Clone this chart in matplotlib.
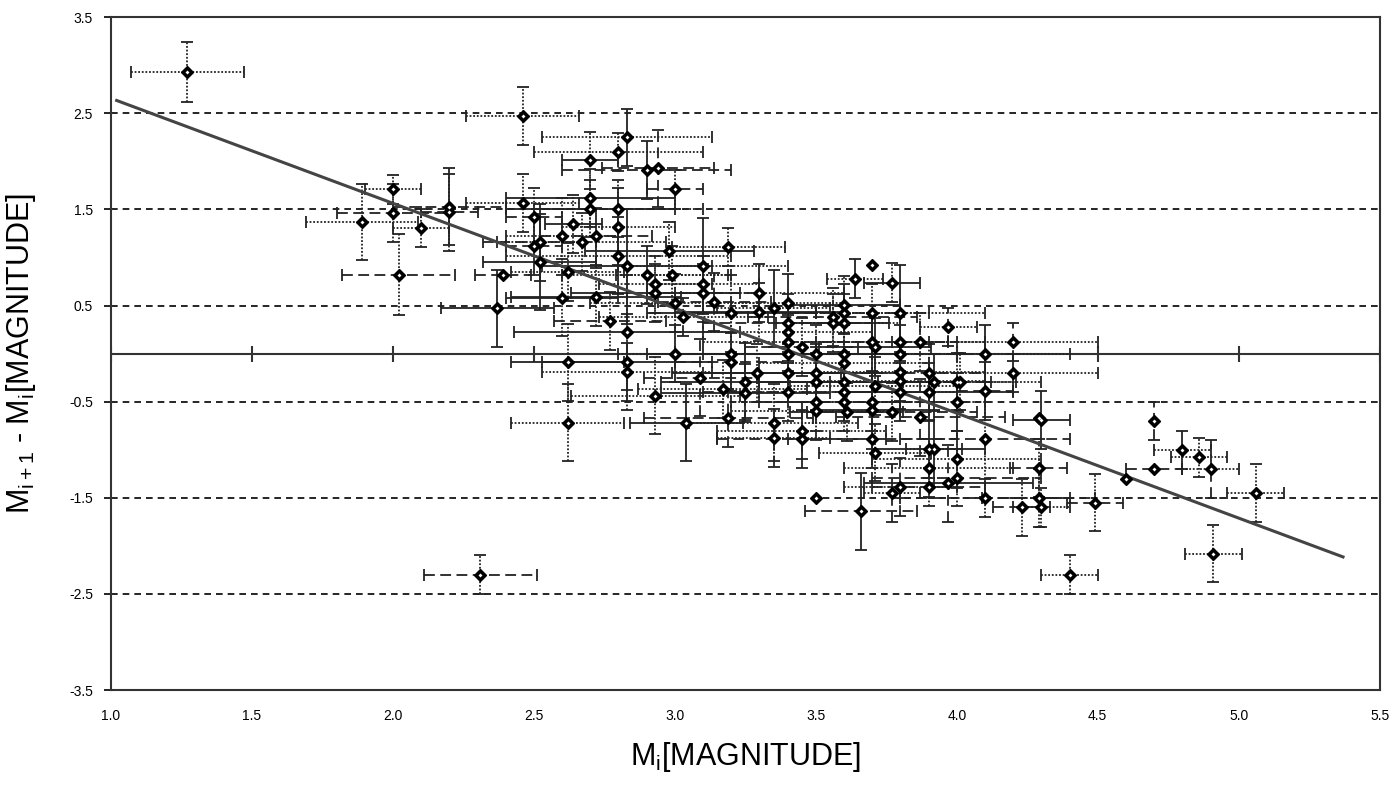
import numpy as np
import matplotlib.pyplot as plt

plt.rcParams['font.family'] = ['Liberation Sans', 'DejaVu Sans']
plt.rcParams['mathtext.fontset'] = 'custom'
plt.rcParams['mathtext.rm'] = 'Liberation Sans'
plt.rcParams['mathtext.it'] = 'Liberation Sans'

# magnitude M_i, difference M_{i+1} - M_i, their errors and error bar styles
# style codes: s = solid, d = dashed, o = dotted, n = no bar
mi = [1.27, 2.46, 2.31, 4.40, 1.89, 2.00, 2.00, 2.02, 2.10, 2.20,
      2.20, 2.37, 2.39, 2.46, 2.50, 2.50, 2.52, 2.52, 2.60, 2.60,
      2.64, 2.62, 2.67, 2.70, 2.70, 2.70, 2.72, 2.80, 2.80, 2.80,
      2.80, 2.83, 2.83, 2.90, 2.94, 3.00, 2.90, 2.93, 2.93, 2.98,
      2.99, 3.10, 3.10, 3.10, 3.14, 3.03, 2.77, 2.83, 2.62, 2.83,
      2.83, 3.00, 3.09, 3.17, 2.93, 3.19, 2.72, 3.00, 3.30, 3.35,
      3.40, 3.30, 3.40, 3.20, 3.40, 3.40, 3.40, 3.40, 3.20, 3.20,
      3.64, 3.70, 3.77, 3.60, 3.56, 3.56, 3.60, 3.60, 3.70, 3.80,
      3.45, 3.50, 3.60, 3.60, 3.70, 3.71, 3.80, 3.80, 3.87, 3.97,
      4.10, 4.20, 4.20, 4.10, 4.10, 4.00, 4.01, 4.00, 3.90, 3.90,
      3.92, 3.87, 3.80, 3.80, 3.80, 3.77, 3.71, 3.70, 3.70, 3.70,
      3.61, 3.60, 3.60, 3.60, 3.50, 3.50, 3.50, 3.50, 3.45, 3.45,
      3.40, 3.35, 3.35, 3.29, 3.25, 3.25, 3.19, 3.71, 3.90, 3.92,
      4.00, 3.90, 4.00, 3.97, 3.90, 3.80, 3.77, 4.10, 3.50, 3.66,
      4.29, 4.30, 4.29, 4.29, 4.30, 4.23, 4.49, 4.60, 4.70, 4.70,
      4.80, 4.86, 4.90, 4.91, 5.06, 2.62, 3.04]
dm = [2.93, 2.47, -2.30, -2.30, 1.37, 1.71, 1.46, 0.82, 1.31, 1.53,
      1.47, 0.47, 0.82, 1.57, 1.42, 1.12, 1.16, 0.95, 1.22, 0.58,
      1.35, 0.85, 1.16, 2.01, 1.62, 1.51, 1.22, 2.10, 1.51, 1.32,
      1.02, 2.25, 0.91, 1.91, 1.93, 1.71, 0.82, 0.72, 0.63, 1.07,
      0.82, 0.91, 0.72, 0.63, 0.54, 0.38, 0.34, 0.22, -0.09, -0.09,
      -0.19, 0.00, -0.25, -0.37, -0.44, 1.11, 0.59, 0.53, 0.63, 0.47,
      0.53, 0.43, 0.32, 0.42, 0.22, 0.12, 0.00, -0.20, 0.00, -0.09,
      0.78, 0.92, 0.74, 0.51, 0.38, 0.32, 0.42, 0.32, 0.42, 0.42,
      0.07, 0.00, 0.00, -0.10, 0.12, 0.07, 0.12, 0.00, 0.12, 0.28,
      0.00, 0.12, -0.20, -0.39, -0.89, -0.29, -0.29, -0.50, -0.20, -0.40,
      -0.30, -0.66, -0.19, -0.28, -0.40, -0.61, -0.34, -0.50, -0.59, -0.89,
      -0.61, -0.30, -0.40, -0.50, -0.20, -0.29, -0.50, -0.60, -0.80, -0.89,
      -0.40, -0.72, -0.88, -0.20, -0.29, -0.41, -0.67, -1.03, -0.99, -0.99,
      -1.10, -1.19, -1.29, -1.35, -1.39, -1.39, -1.45, -1.50, -1.50, -1.64,
      -0.67, -0.69, -1.19, -1.50, -1.60, -1.60, -1.55, -1.30, -0.70, -1.20,
      -1.00, -1.08, -1.20, -2.08, -1.45, -0.72, -0.72]
mi_err = [0.2, 0.2, 0.2, 0.1, 0.2, 0.1, 0.2, 0.2, 0.1, 0.2,
          0.1, 0.2, 0.1, 0.2, 0.1, 0.1, 0.2, 0.2, 0.2, 0.2,
          0.1, 0.2, 0.3, 0.1, 0.3, 0.3, 0.2, 0.3, 0.3, 0.2,
          0.4, 0.3, 0.3, 0.3, 0.2, 0.1, 0.3, 0.2, 0.3, 0.3,
          0.2, 0.3, 0.2, 0.2, 0.2, 0.3, 0.2, 0.4, 0.2, 0.3,
          0.3, 0.2, 0.2, 0.3, 0.3, 0.2, 0.3, 0.3, 0.3, 0.2,
          0.2, 0.3, 0.3, 0.3, 0.3, 0.3, 0.3, 0.3, 0.3, 0.2,
          0.1, 0.0, 0.1, 0.2, 0.3, 0.2, 0.2, 0.2, 0.2, 0.3,
          0.2, 0.3, 0.2, 0.3, 0.3, 0.2, 0.3, 0.3, 0.1, 0.1,
          0.3, 0.3, 0.3, 0.1, 0.3, 0.3, 0.2, 0.1, 0.2, 0.3,
          0.2, 0.3, 0.3, 0.3, 0.2, 0.3, 0.3, 0.3, 0.2, 0.3,
          0.2, 0.3, 0.3, 0.3, 0.3, 0.2, 0.3, 0.3, 0.3, 0.3,
          0.3, 0.3, 0.2, 0.3, 0.3, 0.3, 0.3, 0.2, 0.2, 0.1,
          0.3, 0.3, 0.3, 0.3, 0.2, 0.2, 0.1, 0.3, 0.0, 0.2,
          0.1, 0.1, 0.1, 0.2, 0.1, 0.1, 0.1, 0.0, 0.1, 0.1,
          0.1, 0.1, 0.1, 0.1, 0.1, 0.2, 0.2]
dm_err = [0.31, 0.30, 0.20, 0.20, 0.40, 0.15, 0.30, 0.42, 0.20, 0.40,
          0.40, 0.40, 0.00, 0.30, 0.30, 0.30, 0.40, 0.50, 0.40, 0.40,
          0.30, 0.30, 0.30, 0.30, 0.30, 0.30, 0.30, 0.20, 0.30, 0.40,
          0.40, 0.30, 0.60, 0.30, 0.40, 0.20, 0.30, 0.30, 0.30, 0.30,
          0.30, 0.50, 0.30, 0.30, 0.30, 0.20, 0.30, 0.60, 0.40, 0.50,
          0.30, 0.30, 0.40, 0.30, 0.40, 0.20, 0.30, 0.30, 0.30, 0.40,
          0.30, 0.30, 0.30, 0.40, 0.30, 0.30, 0.40, 0.30, 0.40, 0.30,
          0.20, 0.00, 0.20, 0.30, 0.30, 0.30, 0.30, 0.30, 0.30, 0.50,
          0.30, 0.30, 0.30, 0.30, 0.30, 0.30, 0.30, 0.30, 0.30, 0.20,
          0.30, 0.20, 0.20, 0.30, 0.60, 0.30, 0.30, 0.30, 0.30, 0.30,
          0.30, 0.40, 0.30, 0.30, 0.30, 0.30, 0.30, 0.30, 0.40, 0.30,
          0.30, 0.30, 0.30, 0.30, 0.30, 0.30, 0.30, 0.30, 0.30, 0.30,
          0.30, 0.40, 0.30, 0.30, 0.40, 0.30, 0.30, 0.30, 0.30, 0.40,
          0.30, 0.30, 0.30, 0.40, 0.20, 0.30, 0.30, 0.20, 0.00, 0.40,
          0.30, 0.30, 0.30, 0.30, 0.20, 0.30, 0.30, 0.00, 0.20, 0.20,
          0.20, 0.20, 0.30, 0.30, 0.30, 0.40, 0.40]
mi_style = list("oodoooddoddsdodddsossoosssdooooosdddoossoooddod"
                "sssoodooosoooosdsoosssdoossdsdooodsoodsodoooooddooods"
                "ddooododsdssoodsoooddoosssdosooodsdoododnsddoddondoo"
                "oooossss")
dm_style = list("ooooooooosossoosssoooooooosoosssssdosoooosooddoooos"
                "sdooooosssoooooosossoooooooosoooosssoodsdssooos"
                "ossdosdoosdsossossodsdoodosddossdoododdoosnsooooosdnso"
                "dooosooo")

trend_range = [1.02, 5.37]

x_ticks = np.arange(1.0, 5.51, 0.5)
y_ticks = np.arange(-3.5, 3.51, 1.0)

fig = plt.figure(figsize=(13.95, 7.85), dpi=100)
ax = fig.add_axes([0.0796, 0.121, 0.9094, 0.857])

for yv in y_ticks[1:-1]:
    ax.axhline(yv, color='black', lw=1.2, ls=(0, (4, 3)), zorder=1)

# zero line with tick marks crossing it
ax.plot(x_ticks, np.zeros(len(x_ticks)), color='#333333', lw=1.5,
        marker='|', markersize=11, markeredgewidth=1.5, zorder=1)

mi_a = np.array(mi)
dm_a = np.array(dm)
mie = np.array(mi_err)
dme = np.array(dm_err)
mis = np.array(mi_style[:len(mi)])
dms = np.array(dm_style[:len(mi)])
styles = {'s': '-', 'd': (0, (6, 3)), 'o': (0, (1, 1))}

for code, ls in styles.items():
    sel = (mis == code) & (mie > 0)
    if sel.any():
        eb = ax.errorbar(mi_a[sel], dm_a[sel], xerr=mie[sel], fmt='none',
                         ecolor='#222222', elinewidth=1.3, capsize=4,
                         capthick=1.3, zorder=2)
        eb[2][0].set_linestyle(ls)
    sel = (dms == code) & (dme > 0)
    if sel.any():
        eb = ax.errorbar(mi_a[sel], dm_a[sel], yerr=dme[sel], fmt='none',
                         ecolor='#222222', elinewidth=1.3, capsize=4,
                         capthick=1.3, zorder=2)
        eb[2][0].set_linestyle(ls)

# black diamonds with a small light centre
ax.plot(mi_a, dm_a, ls='none', marker='D', markersize=6.5,
        markerfacecolor='black', markeredgecolor='black',
        markeredgewidth=1, zorder=3)
ax.plot(mi_a, dm_a, ls='none', marker='D', markersize=2,
        markerfacecolor='white', markeredgecolor='white',
        markeredgewidth=0, zorder=3.1)

# linear trendline
k, b = np.polyfit(mi_a, dm_a, 1)
tx = np.array(trend_range)
ax.plot(tx, k * tx + b, color='#444444', lw=2.2, zorder=2.5)

ax.set_xlim(1.0, 5.5)
ax.set_ylim(-3.5, 3.5)
ax.set_xticks(x_ticks)
ax.set_xticklabels([f"{v:.1f}" for v in x_ticks])
ax.set_yticks(y_ticks)
ax.set_yticklabels([f"{v:.1f}" for v in y_ticks])
ax.tick_params(axis='x', length=0, pad=14, labelsize=10)
ax.tick_params(axis='y', direction='out', length=5, width=1.2, pad=8, labelsize=10)
for sp in ax.spines.values():
    sp.set_color('#333333')
    sp.set_linewidth(1.5)

ax.set_xlabel(r'M$_\mathrm{i}$[MAGNITUDE]', fontsize=22, labelpad=12)
ax.set_ylabel(r'M$_\mathrm{i+1}$ - M$_\mathrm{i}$[MAGNITUDE]', fontsize=22,
              labelpad=22)

fig.savefig('out.png', dpi=100)
